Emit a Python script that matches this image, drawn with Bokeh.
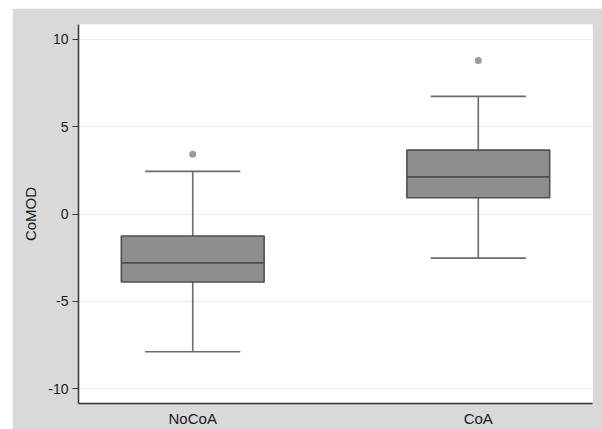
from bokeh.plotting import figure
from bokeh.models import ColumnDataSource, FixedTicker, Range1d, Spacer
from bokeh.layouts import row, column
from bokeh.embed import file_html
from bokeh.resources import INLINE

# ---- data ----
categories = ["NoCoA", "CoA"]
positions = [1, 2]
q1 = [-3.90, 0.93]
median = [-2.80, 2.13]
q3 = [-1.26, 3.66]
lower_whisker = [-7.89, -2.53]
upper_whisker = [2.44, 6.74]
outlier_cat = [1, 2]
outlier_val = [3.43, 8.80]
y_ticks = [-10, -5, 0, 5, 10]
y_tick_labels = ["-10", "-5", "0", "5", "10"]

box_width = 0.5
cap_half = 0.1667

src = ColumnDataSource(dict(
    x=positions,
    q1=q1, med=median, q3=q3,
    lo=lower_whisker, hi=upper_whisker,
    xl=[x - box_width / 2 for x in positions],
    xr=[x + box_width / 2 for x in positions],
    cl=[x - cap_half for x in positions],
    cr=[x + cap_half for x in positions],
))
out_src = ColumnDataSource(dict(x=outlier_cat, y=outlier_val))

BG = "#d9d9d9"
FONT = "Liberation Sans"

p = figure(width=590, height=421, output_backend="svg", toolbar_location=None,
           x_range=Range1d(0.6, 2.4), y_range=Range1d(-10.857, 10.857),
           min_border_left=66, min_border_right=10, min_border_top=16, min_border_bottom=25,
           border_fill_color=BG, background_fill_color="white")
p.outline_line_color = None

# whiskers
p.segment(x0="x", y0="q3", x1="x", y1="hi", source=src, line_color="#6b6b6b", line_width=1.6)
p.segment(x0="x", y0="q1", x1="x", y1="lo", source=src, line_color="#6b6b6b", line_width=1.6)
p.segment(x0="cl", y0="hi", x1="cr", y1="hi", source=src, line_color="#6b6b6b", line_width=1.6)
p.segment(x0="cl", y0="lo", x1="cr", y1="lo", source=src, line_color="#6b6b6b", line_width=1.6)
# boxes
p.vbar(x="x", width=box_width, top="q3", bottom="q1", source=src,
       fill_color="#8e8e8e", line_color="#4f4f4f", line_width=1.6)
# medians
p.segment(x0="xl", y0="med", x1="xr", y1="med", source=src, line_color="#4f4f4f", line_width=1.8)
# outliers
p.scatter(x="x", y="y", source=out_src, size=7, fill_color="#9a9a9a", line_color=None)

# axes
p.xaxis.ticker = FixedTicker(ticks=positions)
p.xaxis.major_label_overrides = {pos: c for pos, c in zip(positions, categories)}
p.xaxis.major_tick_out = 0
p.xaxis.major_tick_in = 0
p.xaxis.minor_tick_line_color = None
p.xaxis.major_label_standoff = 6
p.xaxis.major_label_text_font = FONT
p.xaxis.major_label_text_font_size = "15px"
p.xaxis.major_label_text_color = "#1a1a1a"
p.xaxis.axis_line_color = "#333333"
p.xaxis.axis_line_width = 1.5

p.yaxis.ticker = FixedTicker(ticks=y_ticks)
p.yaxis.major_label_overrides = {t: s for t, s in zip(y_ticks, y_tick_labels)}
p.yaxis.major_tick_out = 6
p.yaxis.major_tick_in = 0
p.yaxis.minor_tick_line_color = None
p.yaxis.major_tick_line_color = "#333333"
p.yaxis.major_label_standoff = 4
p.yaxis.major_label_text_font = FONT
p.yaxis.major_label_text_font_size = "14px"
p.yaxis.major_label_text_color = "#1a1a1a"
p.yaxis.axis_line_color = "#333333"
p.yaxis.axis_line_width = 1.5
p.yaxis.axis_label = "CoMOD"
p.yaxis.axis_label_text_font = FONT
p.yaxis.axis_label_text_font_size = "15px"
p.yaxis.axis_label_text_font_style = "normal"
p.yaxis.axis_label_text_color = "#1a1a1a"
p.yaxis.axis_label_standoff = 6

p.xgrid.grid_line_color = None
p.ygrid.ticker = FixedTicker(ticks=y_ticks)
p.ygrid.grid_line_color = "#ececec"
p.ygrid.grid_line_width = 1

layout = column(Spacer(width=602, height=8), row(Spacer(width=12, height=421), p))

open("out.html", "w").write(file_html(layout, INLINE))
